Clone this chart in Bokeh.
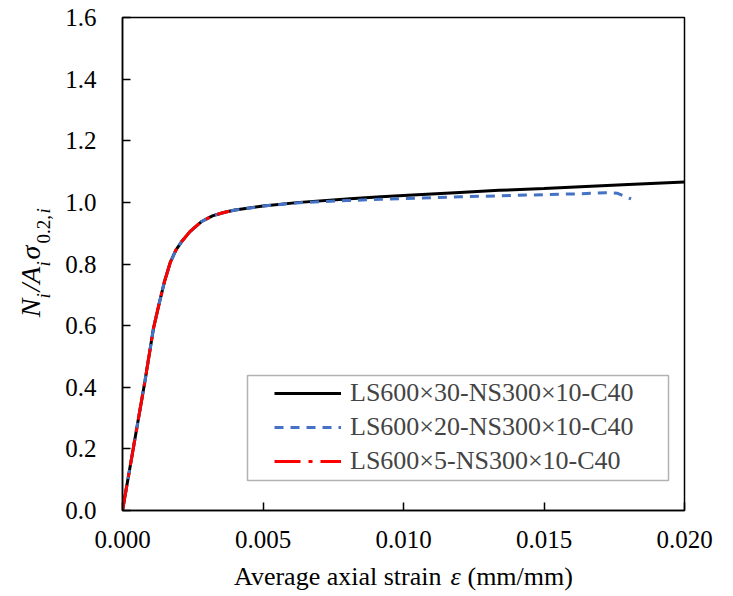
from math import pi
from bokeh.plotting import figure
from bokeh.models import (Range1d, FixedTicker, NumeralTickFormatter, Legend, LegendItem,
                          Label, BoxAnnotation)
from bokeh.embed import file_html
from bokeh.resources import INLINE

# ---- data ----
strain_30 = [0, 0.0004, 0.0008, 0.0011, 0.0013, 0.0015, 0.0017, 0.0019, 0.0021, 0.0024,
             0.0028, 0.0032, 0.0036, 0.0040, 0.0050, 0.0063, 0.0081, 0.0092, 0.0100,
             0.0120, 0.0134, 0.0150, 0.0163, 0.0180, 0.0200]
load_30 = [0, 0.21, 0.42, 0.59, 0.67, 0.745, 0.805, 0.845, 0.872, 0.905,
           0.937, 0.956, 0.967, 0.975, 0.988, 1.000, 1.012, 1.018, 1.022,
           1.032, 1.039, 1.045, 1.051, 1.058, 1.066]

strain_20 = [0, 0.0004, 0.0008, 0.0011, 0.0013, 0.0015, 0.0017, 0.0019, 0.0021, 0.0024,
             0.0028, 0.0032, 0.0036, 0.0040, 0.0050, 0.0063, 0.0080, 0.0092, 0.0120,
             0.0150, 0.0163, 0.0172, 0.0176, 0.0181]
load_20 = [0, 0.21, 0.42, 0.59, 0.67, 0.745, 0.805, 0.845, 0.872, 0.905,
           0.937, 0.956, 0.967, 0.975, 0.988, 0.999, 1.006, 1.010, 1.018,
           1.025, 1.028, 1.031, 1.030, 1.011]

strain_5 = [0, 0.0004, 0.0008, 0.0011, 0.0013, 0.0015, 0.0017, 0.0019, 0.0021, 0.0024,
            0.0028, 0.0032, 0.0036, 0.0038]
load_5 = [0, 0.21, 0.42, 0.59, 0.67, 0.745, 0.805, 0.845, 0.872, 0.905,
          0.937, 0.956, 0.967, 0.971]

series_names = ["LS600\u00d730-NS300\u00d710-C40",
                "LS600\u00d720-NS300\u00d710-C40",
                "LS600\u00d75-NS300\u00d710-C40"]
x_ticks = [0.0, 0.005, 0.010, 0.015, 0.020]
y_ticks = [0.0, 0.2, 0.4, 0.6, 0.8, 1.0, 1.2, 1.4, 1.6]

FONT = "Liberation Serif"
NB = "\u00a0"
X0, X1, Y0, Y1 = 0.0, 0.02, 0.0, 1.6
FL, FR, FT, FB = 122, 684, 17, 510   # frame edges in page pixels


def dx(px):  # page x pixel -> data x
    return X0 + (px - FL) / (FR - FL) * (X1 - X0)


def dy(py):  # page y pixel -> data y
    return Y0 + (FB - py) / (FB - FT) * (Y1 - Y0)


p = figure(width=733, height=596, output_backend="svg", toolbar_location=None,
           x_range=Range1d(X0, X1), y_range=Range1d(Y0, Y1))
p.min_border_left = FL
p.min_border_right = 733 - FR
p.min_border_top = FT
p.min_border_bottom = 596 - FB
p.background_fill_color = "white"
p.border_fill_color = "white"
p.outline_line_color = "black"
p.outline_line_width = 1.5
p.grid.visible = False

for ax in (p.xaxis[0], p.yaxis[0]):
    ax.axis_line_color = "black"
    ax.axis_line_width = 1.5
    ax.major_tick_in = 8
    ax.major_tick_out = 0
    ax.major_tick_line_color = "black"
    ax.major_tick_line_width = 1.5
    ax.minor_tick_line_color = None
    ax.major_label_text_font = FONT
    ax.major_label_text_font_size = "25px"
    ax.major_label_text_color = "black"
    ax.axis_label_text_font = FONT
    ax.axis_label_text_color = "black"

p.xaxis.ticker = FixedTicker(ticks=x_ticks)
p.yaxis.ticker = FixedTicker(ticks=y_ticks)
p.xaxis.formatter = NumeralTickFormatter(format="0.000")
p.yaxis.formatter = NumeralTickFormatter(format="0.0")
p.xaxis.major_label_standoff = 20
p.yaxis.major_label_standoff = 26

# y title main letters (italic); gaps are left for the subscripts
p.yaxis.axis_label = NB + "N" + NB + "/A" + NB + "\u03c3" + NB * 6
p.yaxis.axis_label_text_font_size = "28px"
p.yaxis.axis_label_text_font_style = "italic"
p.yaxis.axis_label_standoff = 16

r30 = p.line(strain_30, load_30, line_color="black", line_width=3)
r20 = p.line(strain_20, load_20, line_color="#4472C4", line_width=3, line_dash="9 7")
r5 = p.line(strain_5, load_5, line_color="#FF0000", line_width=3, line_dash="26 8 4 8")

legend = Legend(items=[LegendItem(label=series_names[0], renderers=[r30]),
                       LegendItem(label=series_names[1], renderers=[r20]),
                       LegendItem(label=series_names[2], renderers=[r5])],
                location=(148, 30), padding=4, margin=0, spacing=4,
                glyph_width=67, glyph_height=26, label_height=26,
                label_standoff=9, label_text_font=FONT, label_text_font_size="26px",
                border_line_alpha=0, background_fill_alpha=0)
p.add_layout(legend, "center")

p.add_layout(BoxAnnotation(left=125, right=546, bottom=30, top=135,
                           left_units="screen", right_units="screen",
                           bottom_units="screen", top_units="screen",
                           fill_alpha=0, line_color="black", line_width=1.5))

# x title (gap left for the italic epsilon)
p.add_layout(Label(x=dx(403), y=dy(575.5), text="Average axial strain" + NB * 4 + "(mm/mm)",
                   text_font=FONT, text_font_size="26px", text_font_style="normal",
                   text_baseline="alphabetic", text_align="center", text_color="black"),
             "below")
p.add_layout(Label(x=dx(455), y=dy(575.5), text="\u03b5", text_font=FONT,
                   text_font_size="26px", text_font_style="italic",
                   text_baseline="alphabetic", text_align="center", text_color="black"),
             "right")

# subscripts of the y title (rotated)
subs = [("i", "italic", 298, "above"),
        ("i", "italic", 266, "above"),
        ("0.2,", "normal", 243, "right"),
        ("i", "italic", 213, "above")]
for txt, style, start, side in subs:
    p.add_layout(Label(x=dx(42.5), y=dy(start), text=txt, angle=pi / 2,
                       text_font=FONT, text_font_size="19px", text_font_style=style,
                       text_baseline="alphabetic", text_align="left", text_color="black"),
                 side)

open("out.html", "w").write(file_html(p, INLINE))
